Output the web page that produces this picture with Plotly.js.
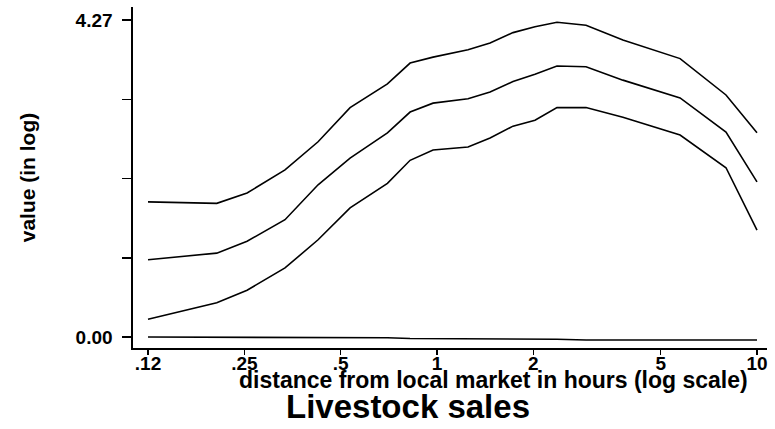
<!DOCTYPE html>
<html>
<head>
<meta charset="utf-8">
<script src="https://cdn.plot.ly/plotly-3.0.1.min.js"></script>
<style>html,body{margin:0;padding:0;background:#fff;}#chart{width:775px;height:429px;}</style>
</head>
<body>
<div id="chart"></div>
<script>
// distance from local market in hours
var distance = [0.125, 0.205, 0.255, 0.335, 0.425, 0.535, 0.70, 0.824, 0.972, 1.25, 1.465, 1.728, 2.024, 2.371, 2.922, 3.81, 5.75, 8.0, 10];
// upper band, fitted value, lower band (in log)
var upper = [1.82, 1.80, 1.94, 2.25, 2.63, 3.09, 3.41, 3.69, 3.77, 3.87, 3.96, 4.10, 4.18, 4.24, 4.20, 4.00, 3.75, 3.26, 2.75];
var fitted = [1.04, 1.13, 1.29, 1.58, 2.05, 2.41, 2.75, 3.03, 3.15, 3.21, 3.30, 3.44, 3.54, 3.65, 3.64, 3.46, 3.22, 2.76, 2.09];
var lower = [0.24, 0.46, 0.63, 0.93, 1.31, 1.74, 2.07, 2.38, 2.52, 2.56, 2.68, 2.84, 2.92, 3.09, 3.09, 2.96, 2.72, 2.28, 1.44];
var baseline = [0.00, 0.00, -0.01, -0.01, -0.01, -0.01, -0.01, -0.02, -0.02, -0.02, -0.02, -0.03, -0.03, -0.03, -0.04, -0.04, -0.04, -0.04, -0.04];

var xTickVals = [0.125, 0.25, 0.5, 1, 2, 5, 10];
var xTickText = ['.12', '.25', '.5', '1', '2', '5', '10'];
var yTickVals = [0, 1.0675, 2.135, 3.2025, 4.27];
var yTickText = ['0.00', '', '', '', '4.27'];

var lineStyle = {color: '#000', width: 1.6};
var traces = [upper, fitted, lower, baseline].map(function (ys) {
  return {x: distance, y: ys, type: 'scatter', mode: 'lines', line: lineStyle, hoverinfo: 'skip', showlegend: false};
});

var fontFam = '"Liberation Sans", Arial, Helvetica, sans-serif';
var layout = {
  width: 775, height: 429,
  margin: {l: 133, r: 8, t: 7, b: 81},
  paper_bgcolor: '#fff', plot_bgcolor: '#fff',
  font: {family: fontFam, color: '#000'},
  showlegend: false,
  title: {text: 'Livestock sales', font: {size: 33, family: fontFam, color: '#000', weight: 'bold'},
          x: 408 / 775, xanchor: 'center', xref: 'container',
          y: 1 - 406 / 429, yanchor: 'middle', yref: 'container'},
  xaxis: {
    type: 'log', range: [-0.95, 1.03125],
    tickvals: xTickVals, ticktext: xTickText,
    ticks: 'outside', ticklen: 5, tickwidth: 1.5, tickcolor: '#000',
    ticklabelstandoff: -7,
    showline: true, linecolor: '#000', linewidth: 1.6,
    showgrid: false, zeroline: false,
    tickfont: {size: 19, family: fontFam, color: '#000', weight: 'bold'}
  },
  yaxis: {
    range: [-0.148, 4.445],
    tickvals: yTickVals, ticktext: yTickText,
    ticks: 'outside', ticklen: 9, tickwidth: 1.5, tickcolor: '#000',
    ticklabelstandoff: 6,
    showline: true, linecolor: '#000', linewidth: 1.6,
    showgrid: false, zeroline: false,
    tickfont: {size: 19, family: fontFam, color: '#000', weight: 'bold'},
    title: {text: 'value (in log)', font: {size: 21, family: fontFam, color: '#000', weight: 'bold'}, standoff: 34}
  },
  annotations: [{
    text: 'distance from local market in hours (log scale)',
    xref: 'paper', yref: 'paper',
    x: (493 - 133) / 634, y: 0, yshift: -(380 - 348),
    xanchor: 'center', yanchor: 'middle', showarrow: false,
    font: {size: 23, family: fontFam, color: '#000', weight: 'bold'}
  }]
};

Plotly.newPlot('chart', traces, layout, {displayModeBar: false, staticPlot: true});
</script>
</body>
</html>
